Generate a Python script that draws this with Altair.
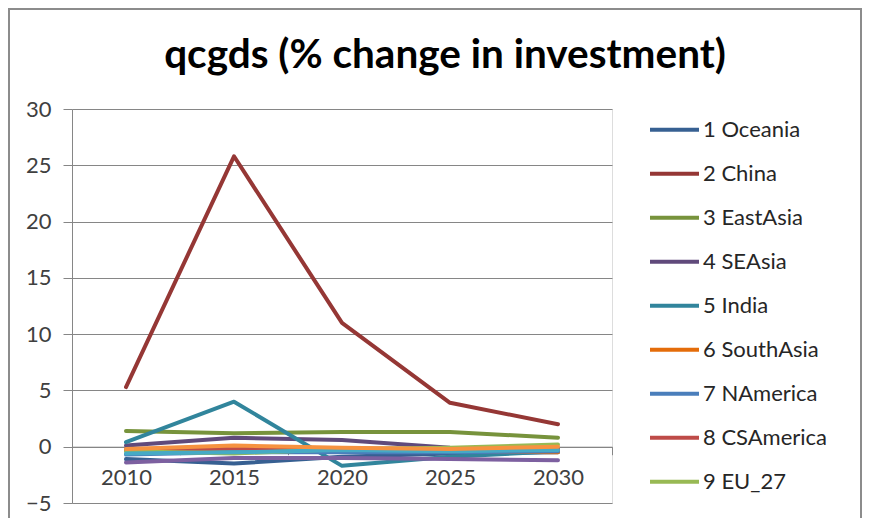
import altair as alt
import pandas as pd

years = ["2010", "2015", "2020", "2025", "2030"]
series = ["1 Oceania", "2 China", "3 EastAsia", "4 SEAsia", "5 India", "6 SouthAsia",
          "7 NAmerica", "8 CSAmerica", "9 EU_27", "10 Region10", "11 Region11", "12 Region12"]
values = [
    [-1.1, -1.5, -0.9, -0.6, -0.5],
    [5.3, 25.8, 11.0, 3.9, 2.0],
    [1.4, 1.2, 1.3, 1.3, 0.8],
    [0.1, 0.8, 0.6, -0.1, -0.2],
    [0.4, 4.0, -1.7, -0.9, -0.4],
    [-0.3, -0.2, -0.3, -0.4, -0.5],
    [-0.7, -0.5, -0.5, -0.5, -0.4],
    [-0.3, -0.1, -0.2, -0.3, -0.2],
    [-0.4, -0.6, -0.2, -0.1, 0.2],
    [-1.4, -1.0, -1.0, -1.1, -1.2],
    [-0.6, -0.5, -0.3, -0.4, -0.3],
    [-0.2, 0.1, -0.1, -0.2, 0.0],
]
colors = ["#376092", "#953735", "#77933C", "#604A7B", "#31859C", "#E46C0A",
          "#4A7EBB", "#BE4B48", "#98B954", "#7D60A0", "#46AAC5", "#F69240"]
y_ticks = [-5, 0, 5, 10, 15, 20, 25, 30]
title_text = "qcgds (% change in investment)"

rows = []
for i, (name, vals) in enumerate(zip(series, values)):
    for yr, v in zip(years, vals):
        rows.append({"series": name, "year": yr, "value": v, "order": i})
df = pd.DataFrame(rows)

W, H = 540, 394
PL, PT, PR, PB = 64, 101, 250, 15
FONT = "Lato"

lines = alt.Chart(df).mark_line(strokeWidth=4, strokeCap="round", strokeJoin="round").encode(
    x=alt.X("year:O", bandPosition=0.5,
            scale=alt.Scale(type="band", paddingInner=0, paddingOuter=0, domain=years),
            axis=alt.Axis(title=None, orient="bottom", offset=-H * 5 / 35,
                          domain=True, domainColor="#868686", domainWidth=1,
                          ticks=True, tickBand="extent", tickSize=8, tickColor="#868686",
                          labelFont=FONT, labelFontSize=22, labelColor="#404040",
                          labelPadding=13, labelAngle=0, grid=False)),
    y=alt.Y("value:Q", scale=alt.Scale(domain=[-5, 30], nice=False, zero=False),
            axis=alt.Axis(title=None, values=y_ticks, grid=True, gridColor="#868686",
                          domain=True, domainColor="#868686", ticks=True, tickSize=9,
                          tickColor="#868686", labelFont=FONT, labelFontSize=22,
                          labelColor="#404040", labelPadding=12)),
    color=alt.Color("series:N", sort=series,
                    scale=alt.Scale(domain=series, range=colors),
                    legend=alt.Legend(title=None, values=series[:9], orient="none",
                                      legendX=576, legendY=-1, symbolType="stroke",
                                      symbolSize=2401, symbolStrokeWidth=4,
                                      labelFont=FONT, labelFontSize=22, labelColor="#262626",
                                      labelOffset=2, clipHeight=43.7, rowPadding=0,
                                      padding=0)),
    order=alt.Order("order:Q"),
    detail="series:N",
)

one = pd.DataFrame({"k": [0], "t": [title_text]})
border = alt.Chart(one).mark_rect(fill="transparent", stroke="#8c8c8c", strokeWidth=2).encode(
    x=alt.value(-PL + 1), x2=alt.value(W + PR - 1),
    y=alt.value(-PT + 1), y2=alt.value(H + 200),
)
title = alt.Chart(one).mark_text(font=FONT, fontSize=40.5, fontWeight="bold", color="#000000",
                                 align="center", baseline="alphabetic").encode(
    text="t:N", x=alt.value(373), y=alt.value(-41),
)

chart = alt.layer(border, lines, title).properties(
    width=W, height=H,
    padding={"left": PL, "top": PT, "right": PR, "bottom": PB},
    autosize=alt.AutoSizeParams(type="none"),
).configure_view(stroke=None).configure(background="white")

chart.save("out.html", embed_options={"renderer": "svg", "actions": False})
